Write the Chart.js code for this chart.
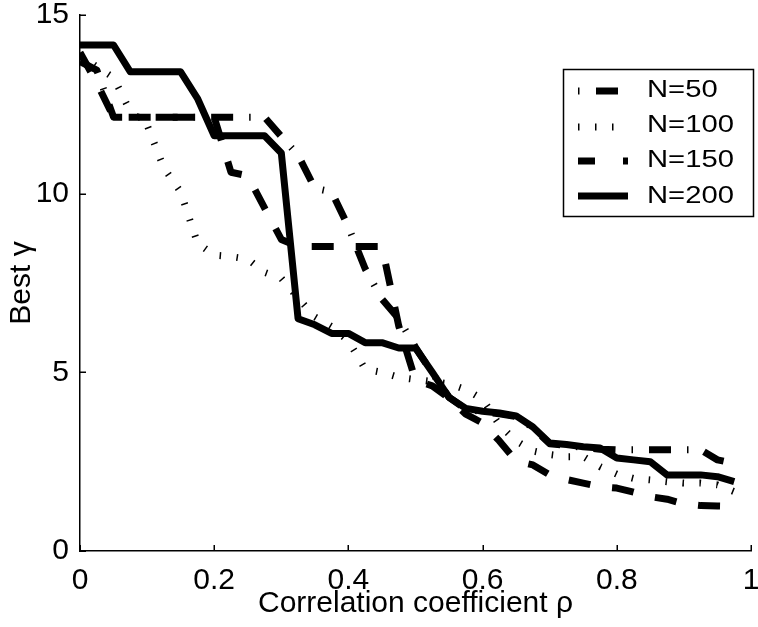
<!DOCTYPE html>
<html><head><meta charset="utf-8">
<script src="https://cdn.jsdelivr.net/npm/chart.js@4.4.1/dist/chart.umd.min.js"></script>
<style>html,body{margin:0;padding:0;background:#fff;}#wrap{width:758px;height:627px;}</style>
</head><body><div id="wrap"><canvas id="c" width="758" height="627"></canvas></div>
<script>
// ---- data ----
const rho = [0,0.025,0.05,0.075,0.1,0.125,0.15,0.175,0.2,0.225,0.25,0.275,0.3,0.325,0.35,0.375,0.4,0.425,0.45,0.475,0.5,0.525,0.55,0.575,0.6,0.625,0.65,0.675,0.7,0.725,0.75,0.775,0.8,0.825,0.85,0.875,0.9,0.925,0.95,0.975];
const gammaN50 = [13.7,13.46,12.14,12.14,12.14,12.14,12.14,12.14,12.14,12.14,12.14,12.14,11.6,11.08,10.15,10.05,9.07,7.9,7.05,6.5,5.7,4.98,4.3,3.97,3.9,3.84,3.76,3.45,3.0,2.96,2.9,2.85,2.83,2.83,2.83,2.83,2.83,2.83,2.55,2.45];
const gammaN100 = [13.88,13.55,13.25,12.3,11.92,10.72,10.05,8.62,8.28,8.24,8.17,7.8,7.63,7.08,6.55,6.28,5.88,5.09,5.0,4.86,4.8,4.74,4.68,4.52,4.25,3.53,3.08,2.8,2.7,2.64,2.64,2.36,2.15,2.03,1.99,1.94,1.9,1.9,1.85,1.66];
const gammaN150 = [13.95,13.1,12.14,12.14,12.14,12.14,12.14,12.14,12.14,10.6,10.5,9.6,8.72,8.52,8.52,8.52,8.52,8.52,8.52,6.3,4.78,4.62,4.28,3.83,3.58,3.08,2.52,2.41,2.13,2.0,1.9,1.8,1.76,1.65,1.52,1.45,1.32,1.27,1.26,1.25];
const gammaN200 = [14.16,14.16,14.16,13.41,13.41,13.41,13.41,12.67,11.62,11.62,11.62,11.62,11.14,6.5,6.33,6.09,6.09,5.83,5.83,5.68,5.68,5.0,4.3,3.99,3.91,3.86,3.78,3.47,3.02,2.98,2.92,2.88,2.6,2.55,2.5,2.13,2.13,2.13,2.08,1.94];
const seriesLabels = ['N=50','N=100','N=150','N=200'];
const xTickLabels = ['0','0.2','0.4','0.6','0.8','1'];
const yTickLabels = ['0','5','10','15'];
const xTitle = 'Correlation coefficient \u03c1';
const yTitle = 'Best \u03b3';

const FONT = "'Liberation Sans', Arial, Helvetica, sans-serif";
const pts = arr => arr.map((v, i) => ({x: rho[i], y: v}));

const styles = [
  {w: 7, dash: [22, 16, 1.5, 16], legendDash: [1.5, 16.5, 22, 16], order: 3},
  {w: 7, dash: [1.5, 15.5], legendDash: [1.5, 15.5], order: 2},
  {w: 7, dash: [22, 22], legendDash: [17, 28], order: 1},
  {w: 7, dash: [], legendDash: [], order: 0}
];
const seriesData = [gammaN50, gammaN100, gammaN150, gammaN200];

const datasets = seriesData.map((d, i) => ({
  label: seriesLabels[i],
  data: pts(d),
  borderColor: '#000',
  backgroundColor: '#000',
  borderWidth: styles[i].w,
  borderDash: styles[i].dash,
  borderCapStyle: 'butt',
  borderJoinStyle: 'round',
  pointRadius: 0,
  pointHoverRadius: 0,
  fill: false,
  tension: 0,
  order: styles[i].order
}));

const noPad = s => { s.paddingLeft = 0; s.paddingRight = 0; s.paddingTop = 0; s.paddingBottom = 0; };

const inwardTicks = {
  id: 'inwardTicks',
  afterDatasetsDraw(chart) {
    const ctx = chart.ctx, xs = chart.scales.x, ys = chart.scales.y;
    const a = chart.chartArea;
    ctx.save();
    ctx.strokeStyle = '#000';
    ctx.lineWidth = 1.5;
    ctx.beginPath();
    xs.ticks.forEach(t => {
      const p = Math.round(xs.getPixelForValue(t.value)) + 0.25;
      ctx.moveTo(p, a.bottom); ctx.lineTo(p, a.bottom - 6);
    });
    ys.ticks.forEach(t => {
      const p = Math.round(ys.getPixelForValue(t.value)) + 0.25;
      ctx.moveTo(a.left, p); ctx.lineTo(a.left + 6, p);
    });
    ctx.stroke();
    ctx.restore();
  }
};

const boxLegend = {
  id: 'boxLegend',
  afterDraw(chart) {
    const ctx = chart.ctx;
    const bx = 563.5, by = 69.5, bw = 190, bh = 147;
    ctx.save();
    ctx.fillStyle = '#fff';
    ctx.fillRect(bx, by, bw, bh);
    ctx.strokeStyle = '#000';
    ctx.lineWidth = 1.5;
    ctx.setLineDash([]);
    ctx.strokeRect(bx, by, bw, bh);
    const lineY = [91, 127, 161, 196];
    const textY = [96.5, 131.8, 166.8, 202.6];
    chart.data.datasets.forEach((ds, i) => {
      ctx.save();
      ctx.strokeStyle = ds.borderColor;
      ctx.lineWidth = ds.borderWidth;
      ctx.lineCap = 'butt';
      ctx.setLineDash(styles[i].legendDash);
      ctx.beginPath();
      ctx.moveTo(578, lineY[i]);
      ctx.lineTo(628, lineY[i]);
      ctx.stroke();
      ctx.restore();
      ctx.save();
      ctx.fillStyle = '#000';
      ctx.font = '23px ' + FONT;
      ctx.textAlign = 'left';
      ctx.textBaseline = 'alphabetic';
      ctx.translate(647, textY[i]);
      ctx.scale(1.27, 1);
      ctx.fillText(ds.label, 0, 0);
      ctx.restore();
    });
    ctx.restore();
  }
};

new Chart(document.getElementById('c'), {
  type: 'line',
  data: {datasets},
  options: {
    responsive: false,
    animation: false,
    events: [],
    layout: {padding: {left: 0, right: 7, top: 15, bottom: 0}, autoPadding: false},
    plugins: {legend: {display: false}, tooltip: {enabled: false}, title: {display: false}},
    scales: {
      x: {
        type: 'linear', min: 0, max: 1,
        afterFit: s => { s.height = 76; noPad(s); },
        grid: {display: false, drawTicks: false},
        border: {display: true, color: '#000', width: 1.5},
        ticks: {
          stepSize: 0.2, padding: 12, color: '#000', maxRotation: 0,
          font: {family: FONT, size: 30},
          callback: (v, i) => xTickLabels[i]
        },
        title: {display: true, text: xTitle, color: '#000', font: {family: FONT, size: 30}, padding: {top: 0, bottom: 5}}
      },
      y: {
        type: 'linear', min: 0, max: 15,
        afterFit: s => { s.width = 80; noPad(s); },
        grid: {display: false, drawTicks: false},
        border: {display: true, color: '#000', width: 1.5},
        ticks: {
          stepSize: 5, padding: 11, color: '#000',
          font: {family: FONT, size: 30},
          callback: (v, i) => yTickLabels[i]
        },
        title: {display: true, text: yTitle, color: '#000', font: {family: FONT, size: 30}, padding: {top: 4, bottom: 0}}
      }
    }
  },
  plugins: [inwardTicks, boxLegend]
});
</script></body></html>
